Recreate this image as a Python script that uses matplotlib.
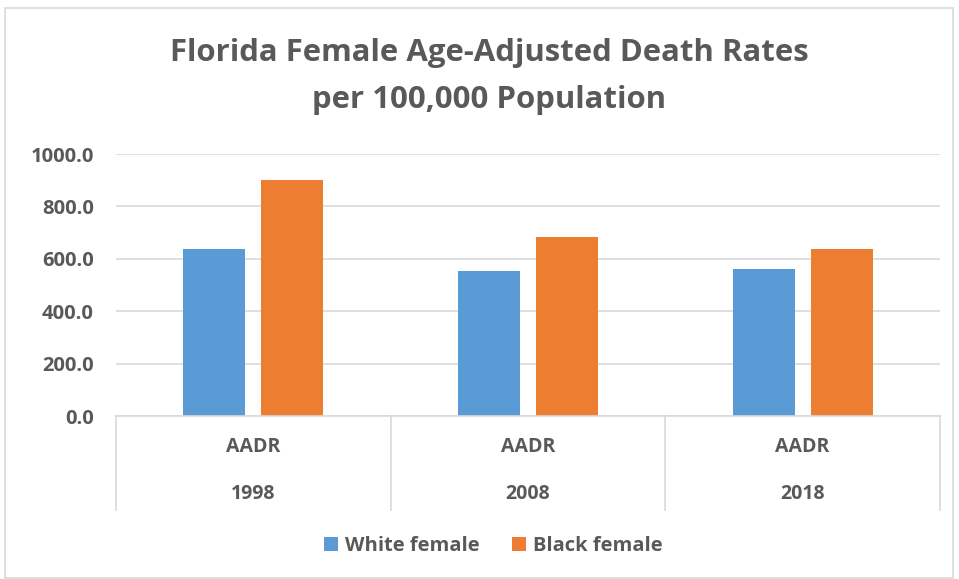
import matplotlib
matplotlib.use("Agg")
import matplotlib.pyplot as plt
from matplotlib.patches import Rectangle
from matplotlib.lines import Line2D
import numpy as np

years = ["1998", "2008", "2018"]
measure = ["AADR", "AADR", "AADR"]
white_female = [639.0, 552.0, 560.0]
black_female = [900.0, 684.0, 638.0]
series_names = ["White female", "Black female"]
yticks = [0, 200, 400, 600, 800, 1000]

BLUE = "#5B9BD5"
ORANGE = "#ED7D31"
GRID = "#D9D9D9"
TEXT = "#595959"
FONT = ["Open Sans", "DejaVu Sans"]

W, H = 959, 579
fig = plt.figure(figsize=(W / 100, H / 100), dpi=100)

# chart border
fig.patches.append(Rectangle((5 / W, 1 - 578 / H), 948 / W, 570 / H, transform=fig.transFigure,
                             fill=False, edgecolor=GRID, linewidth=1.2))

left, right, top, bottom = 116, 940, 154, 416
ax = fig.add_axes([left / W, 1 - bottom / H, (right - left) / W, (bottom - top) / H])

x = np.arange(len(years))
bw = 0.225
off = 0.142
ax.bar(x - off, white_female, width=bw, color=BLUE, label=series_names[0], zorder=3)
ax.bar(x + off, black_female, width=bw, color=ORANGE, label=series_names[1], zorder=3)

ax.set_xlim(-0.5, len(years) - 0.5)
ax.set_ylim(0, 1000)
ax.set_yticks(yticks)
ax.set_yticklabels([f"{v:.1f}" for v in yticks], fontsize=14.5, fontweight="bold",
                   color=TEXT, family=FONT)
ax.tick_params(axis="y", length=0, pad=16)
ax.set_xticks([])
for s in ax.spines.values():
    s.set_visible(False)
ax.grid(axis="y", color=GRID, linewidth=1.2, zorder=0)
ax.set_axisbelow(True)

# multi-level category axis
y0 = 1 - bottom / H
y1 = 1 - 510 / H
fig.add_artist(Line2D([left / W, right / W], [y0, y0], color=GRID, linewidth=1.2,
                      transform=fig.transFigure))
edges = np.linspace(left, right, len(years) + 1)
for e in edges:
    fig.add_artist(Line2D([e / W, e / W], [y0, y1], color=GRID, linewidth=1.2,
                          transform=fig.transFigure))
for i in range(len(years)):
    cx = (edges[i] + edges[i + 1]) / 2 / W
    fig.text(cx, 1 - 447 / H, measure[i], ha="center", va="center", fontsize=14,
             fontweight="bold", color=TEXT, family=FONT)
    fig.text(cx, 1 - 494 / H, years[i], ha="center", va="center", fontsize=14,
             fontweight="bold", color=TEXT, family=FONT)

fig.text(489 / W, 1 - 53 / H, "Florida Female Age-Adjusted Death Rates", ha="center",
         va="center", fontsize=22.4, fontweight="bold", color=TEXT, family=FONT)
fig.text(489 / W, 1 - 100 / H, "per 100,000 Population", ha="center",
         va="center", fontsize=22.4, fontweight="bold", color=TEXT, family=FONT)

leg = fig.legend(loc="center", bbox_to_anchor=(493 / W, 1 - 546 / H), ncol=2, frameon=False,
                 prop={"family": FONT, "weight": "bold", "size": 14.5},
                 handlelength=0.7, handleheight=0.7, handletextpad=0.35, columnspacing=1.6)
for t in leg.get_texts():
    t.set_color(TEXT)

fig.savefig("out.png", dpi=100)
